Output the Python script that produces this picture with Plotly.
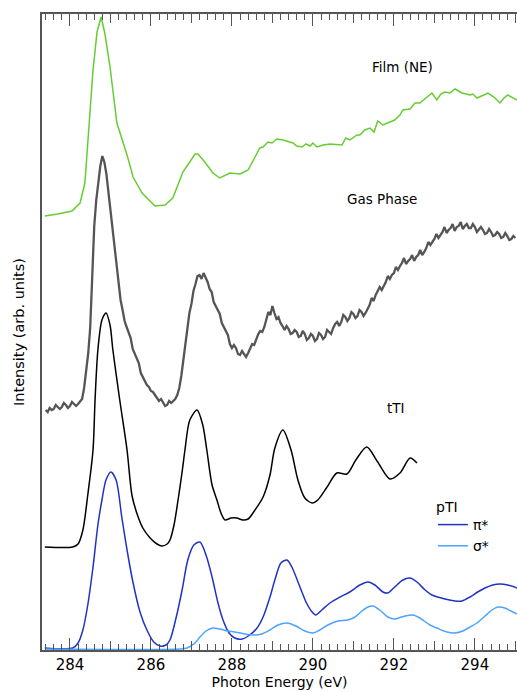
import plotly.graph_objects as go

FONT = "DejaVu Sans"

# ---------------- data (photon energy in eV, intensity in arb. units) ----------------
film_E = [283.38, 283.70, 284.05, 284.25, 284.37, 284.49, 284.57, 284.67, 284.77, 284.86,
          284.99, 285.16, 285.41, 285.56, 285.78, 286.10, 286.35, 286.54, 286.79, 287.09,
          287.16, 287.33, 287.53, 287.70, 287.95, 288.20, 288.40, 288.69, 288.77, 288.89,
          288.99, 289.11, 289.26, 289.51, 289.60, 289.73, 289.83, 289.93, 290.00, 290.10,
          290.25, 290.42, 290.72, 290.81, 290.91, 291.09, 291.16, 291.28, 291.41, 291.51,
          291.60, 291.73, 291.90, 292.02, 292.15, 292.22, 292.40, 292.52, 292.64, 292.81,
          292.94, 293.06, 293.16, 293.26, 293.38, 293.51, 293.68, 293.88, 293.95, 294.05,
          294.12, 294.22, 294.32, 294.47, 294.62, 294.72, 294.81, 294.91, 295.04]
film_I = [434, 436, 439, 447, 467, 533, 580, 618, 633, 617,
          583, 527, 495, 473, 457, 444, 445, 452, 478, 496,
          496, 488, 477, 472, 477, 476, 480, 502, 503, 508,
          507, 511, 510, 507, 504, 503, 506, 504, 507, 503,
          505, 506, 505, 512, 510, 515, 515, 520, 522, 518,
          529, 525, 528, 530, 535, 540, 541, 547, 547, 553,
          557, 550, 556, 558, 557, 561, 557, 555, 556, 552,
          553, 555, 557, 553, 547, 552, 555, 553, 550]

gas_E = [283.40, 283.45, 283.50, 283.55, 283.60, 283.65, 283.70, 283.75, 283.80, 283.85,
         283.90, 283.95, 284.00, 284.05, 284.10, 284.15, 284.20, 284.25, 284.30, 284.35,
         284.40, 284.45, 284.50, 284.55, 284.60, 284.65, 284.70, 284.75, 284.80, 284.85,
         284.90, 284.95, 285.00, 285.05, 285.10, 285.15, 285.20, 285.25, 285.30, 285.35,
         285.40, 285.45, 285.50, 285.55, 285.60, 285.65, 285.70, 285.75, 285.80, 285.85,
         285.90, 285.95, 286.00, 286.05, 286.10, 286.15, 286.20, 286.25, 286.30, 286.35,
         286.40, 286.45, 286.50, 286.55, 286.60, 286.65, 286.70, 286.75, 286.80, 286.85,
         286.90, 286.95, 287.00, 287.05, 287.10, 287.15, 287.20, 287.25, 287.30, 287.35,
         287.40, 287.45, 287.50, 287.55, 287.60, 287.65, 287.70, 287.75, 287.80, 287.85,
         287.90, 287.95, 288.00, 288.05, 288.10, 288.15, 288.20, 288.25, 288.30, 288.35,
         288.40, 288.45, 288.50, 288.55, 288.60, 288.65, 288.70, 288.75, 288.80, 288.85,
         288.90, 288.95, 289.00, 289.05, 289.10, 289.15, 289.20, 289.25, 289.30, 289.35,
         289.40, 289.45, 289.50, 289.55, 289.60, 289.65, 289.70, 289.75, 289.80, 289.85,
         289.90, 289.95, 290.00, 290.05, 290.10, 290.15, 290.20, 290.25, 290.30, 290.35,
         290.40, 290.45, 290.50, 290.55, 290.60, 290.65, 290.70, 290.75, 290.80, 290.85,
         290.90, 290.95, 291.00, 291.05, 291.10, 291.15, 291.20, 291.25, 291.30, 291.35,
         291.40, 291.45, 291.50, 291.55, 291.60, 291.65, 291.70, 291.75, 291.80, 291.85,
         291.90, 291.95, 292.00, 292.05, 292.10, 292.15, 292.20, 292.25, 292.30, 292.35,
         292.40, 292.45, 292.50, 292.55, 292.60, 292.65, 292.70, 292.75, 292.80, 292.85,
         292.90, 292.95, 293.00, 293.05, 293.10, 293.15, 293.20, 293.25, 293.30, 293.35,
         293.40, 293.45, 293.50, 293.55, 293.60, 293.65, 293.70, 293.75, 293.80, 293.85,
         293.90, 293.95, 294.00, 294.05, 294.10, 294.15, 294.20, 294.25, 294.30, 294.35,
         294.40, 294.45, 294.50, 294.55, 294.60, 294.65, 294.70, 294.75, 294.80, 294.85,
         294.90, 294.95, 295.00]
gas_I = [240, 238, 242, 240, 241, 245, 243, 241, 243, 247,
         245, 242, 244, 248, 246, 244, 246, 249, 251, 262,
         278, 296, 322, 380, 424, 450, 466, 484, 494, 488,
         476, 458, 440, 420, 402, 382, 365, 350, 340, 329,
         323, 318, 312, 301, 296, 292, 287, 277, 273, 270,
         265, 263, 259, 258, 255, 252, 249, 251, 248, 244,
         245, 249, 247, 249, 251, 255, 262, 274, 289, 309,
         324, 337, 346, 359, 366, 374, 375, 371, 377, 372,
         368, 361, 358, 348, 344, 341, 336, 327, 323, 320,
         315, 306, 302, 305, 302, 296, 295, 299, 296, 293,
         297, 302, 306, 305, 310, 316, 319, 318, 323, 331,
         338, 335, 344, 337, 331, 333, 327, 324, 320, 324,
         321, 316, 317, 320, 318, 313, 314, 319, 316, 310,
         312, 316, 314, 309, 311, 317, 315, 311, 313, 320,
         318, 316, 322, 326, 328, 324, 328, 335, 333, 329,
         332, 338, 336, 332, 334, 340, 338, 334, 337, 342,
         345, 352, 349, 355, 359, 363, 360, 364, 368, 374,
         371, 375, 377, 383, 380, 384, 387, 392, 386, 389,
         391, 395, 389, 393, 395, 400, 395, 398, 402, 408,
         405, 408, 411, 416, 412, 415, 418, 423, 417, 420,
         422, 426, 419, 423, 424, 428, 421, 424, 426, 422,
         422, 426, 423, 418, 420, 423, 420, 416, 417, 421,
         418, 414, 415, 418, 416, 412, 413, 417, 414, 410,
         411, 414, 412]

tti_E = [283.38, 284.07, 284.20, 284.32, 284.44, 284.57, 284.62, 284.69, 284.79, 284.89,
         284.99, 285.06, 285.23, 285.41, 285.53, 285.65, 285.80, 285.98, 286.15, 286.27,
         286.40, 286.47, 286.57, 286.67, 286.77, 286.84, 286.96, 287.14, 287.28, 287.38,
         287.51, 287.63, 287.73, 287.83, 287.98, 288.12, 288.27, 288.40, 288.57, 288.77,
         288.94, 289.06, 289.26, 289.46, 289.63, 289.80, 289.98, 290.12, 290.35, 290.59,
         290.84, 291.06, 291.33, 291.60, 291.90, 292.15, 292.40, 292.57]
tti_I = [103, 103, 106, 120, 155, 200, 250, 300, 330, 337,
         325, 300, 250, 200, 155, 137, 122, 112, 106, 104,
         106, 110, 125, 150, 178, 200, 230, 240, 225, 200,
         165, 150, 137, 130, 132, 132, 130, 131, 140, 153,
         175, 202, 220, 200, 170, 152, 147, 150, 163, 177,
         176, 190, 203, 188, 171, 177, 192, 187]

pi_E = [283.38, 284.07, 284.20, 284.32, 284.44, 284.57, 284.69, 284.79, 284.89, 285.01,
        285.14, 285.28, 285.41, 285.56, 285.73, 285.90, 286.07, 286.22, 286.37, 286.47,
        286.62, 286.77, 286.91, 287.06, 287.21, 287.36, 287.51, 287.65, 287.78, 287.93,
        288.07, 288.25, 288.44, 288.62, 288.77, 288.94, 289.06, 289.21, 289.36, 289.48,
        289.68, 289.83, 289.98, 290.07, 290.22, 290.42, 290.67, 290.91, 291.16, 291.36,
        291.53, 291.73, 291.85, 292.02, 292.22, 292.40, 292.57, 292.77, 292.94, 293.26,
        293.51, 293.68, 293.88, 294.07, 294.25, 294.44, 294.62, 294.81, 295.04]
pi_I = [2, 2, 7, 20, 45, 83, 125, 150, 170, 178,
        170, 133, 100, 67, 38, 20, 8, 4, 5, 10,
        32, 60, 90, 105, 108, 95, 73, 48, 30, 17,
        12, 11, 15, 22, 33, 53, 70, 87, 90, 83,
        63, 48, 38, 35, 40, 47, 53, 58, 65, 68,
        65, 58, 57, 63, 70, 72, 68, 60, 55, 51,
        49, 49, 53, 58, 62, 65, 66, 65, 62]

sigma_E = [283.38, 286.72, 286.89, 287.09, 287.21, 287.36, 287.53, 287.70, 287.90, 288.07,
           288.32, 288.57, 288.74, 288.94, 289.14, 289.36, 289.58, 289.80, 290.00, 290.17,
           290.37, 290.62, 290.86, 291.04, 291.21, 291.36, 291.48, 291.65, 291.85, 292.02,
           292.27, 292.47, 292.64, 292.89, 293.06, 293.31, 293.51, 293.70, 293.88, 294.05,
           294.25, 294.42, 294.57, 294.74, 294.89, 295.04]
sigma_I = [1, 1, 2, 7, 13, 19, 22, 21, 19, 18,
           16, 15, 16, 20, 25, 27, 24, 19, 17, 20,
           25, 29, 30, 33, 39, 43, 44, 40, 33, 31,
           34, 35, 32, 25, 22, 18, 17, 19, 23, 27,
           34, 40, 43, 42, 39, 36]

x_major = [284, 286, 288, 290, 292, 294]
x_mid = [285, 287, 289, 291, 293, 295]

# ---------------- figure ----------------
fig = go.Figure()
fig.add_trace(go.Scatter(x=film_E, y=film_I, mode="lines", showlegend=False,
                         line=dict(color="#66cc33", width=1.5)))
fig.add_trace(go.Scatter(x=gas_E, y=gas_I, mode="lines", showlegend=False,
                         line=dict(color="#555555", width=2.3)))
fig.add_trace(go.Scatter(x=tti_E, y=tti_I, mode="lines", showlegend=False,
                         line=dict(color="#000000", width=1.5, shape="spline", smoothing=0.8)))
fig.add_trace(go.Scatter(x=pi_E, y=pi_I, mode="lines", name="π*",
                         line=dict(color="#1f33c4", width=1.5, shape="spline", smoothing=0.8)))
fig.add_trace(go.Scatter(x=sigma_E, y=sigma_I, mode="lines", name="σ*",
                         line=dict(color="#4da3ff", width=1.5, shape="spline", smoothing=0.8)))
# carrier for the secondary tick axis (odd-integer ticks)
fig.add_trace(go.Scatter(x=[], y=[], xaxis="x2", showlegend=False, hoverinfo="skip"))

fig.update_layout(
    width=517, height=692,
    margin=dict(l=42, r=0, t=14, b=42, autoexpand=False),
    paper_bgcolor="white", plot_bgcolor="white",
    font=dict(family=FONT, size=14, color="black"),
    showlegend=True,
    legend=dict(x=0.823, y=0.2217, xanchor="left", yanchor="top",
                font=dict(size=14, family=FONT), bgcolor="rgba(0,0,0,0)",
                tracegroupgap=0, itemwidth=30),
    xaxis=dict(range=[283.31, 295.04], tickvals=x_major, ticks="inside",
               ticklen=12, tickwidth=1, tickcolor="#555555", automargin=False,
               showline=True, linecolor="#555555", linewidth=1.5, mirror="allticks",
               showgrid=False, zeroline=False,
               tickfont=dict(size=15, family=FONT, color="black"),
               minor=dict(dtick=0.2, tick0=284, ticks="inside", ticklen=6,
                          tickcolor="#555555", tickwidth=1, showgrid=False),
               title=dict(text="Photon Energy (eV)", font=dict(size=14, family=FONT),
                          standoff=2)),
    xaxis2=dict(range=[283.31, 295.04], overlaying="x", side="bottom", matches="x",
                tickvals=x_mid, ticks="inside", ticklen=9, tickwidth=1, automargin=False,
                tickcolor="#555555", showticklabels=False, showline=False,
                mirror="allticks", showgrid=False, zeroline=False),
    yaxis=dict(range=[0, 636], showline=True, linecolor="#555555", linewidth=1.5,
               ticks="", showticklabels=False, showgrid=False, zeroline=False,
               automargin=False,
               title=dict(text="Intensity (arb. units)", font=dict(size=14.5, family=FONT),
                          standoff=12)),
    annotations=[
        dict(x=292.22, y=583, xref="x", yref="y", text="Film (NE)", showarrow=False,
             font=dict(size=13.5, family=FONT)),
        dict(x=291.70, y=451, xref="x", yref="y", text="Gas Phase", showarrow=False,
             font=dict(size=13.5, family=FONT)),
        dict(x=292.05, y=242, xref="x", yref="y", text="tTI", showarrow=False,
             font=dict(size=13.5, family=FONT)),
        dict(x=293.31, y=143, xref="x", yref="y", text="pTI", showarrow=False,
             font=dict(size=14, family=FONT)),
    ],
)

fig.write_html("out.html", config={"displayModeBar": False},
               post_script="document.body.style.margin='0';")
